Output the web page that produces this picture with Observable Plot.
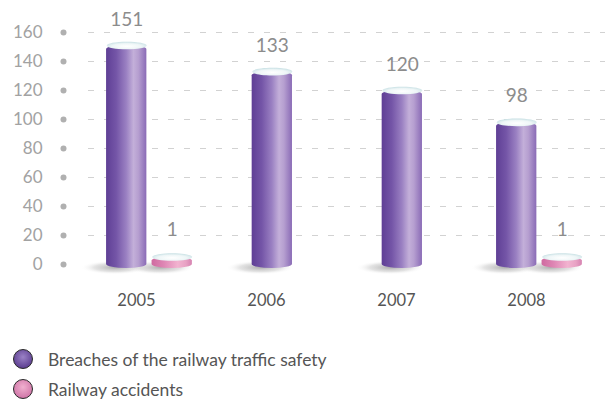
<!DOCTYPE html>
<html><head><meta charset="utf-8">
<script src="https://cdn.jsdelivr.net/npm/d3@7"></script>
<script src="https://cdn.jsdelivr.net/npm/@observablehq/plot@0.6"></script>
<style>
html,body{margin:0;padding:0;background:#fff;}
body{font-family:"Lato","Open Sans",sans-serif;width:610px;height:401px;position:relative;overflow:hidden;}
#legend{position:absolute;left:12px;top:344px;}
.lg{display:flex;align-items:center;height:30px;font-size:17.5px;color:#555;}
.lg svg{margin-right:14px;}
</style></head><body><div id="chart"></div><div id="legend"></div>
<script>
const years = ["2005","2006","2007","2008"];
const breaches = [151,133,120,98];
const accidents = [1,null,null,1];
const yTicks = [0,20,40,60,80,100,120,140,160];
const seriesNames = ["Breaches of the railway traffic safety","Railway accidents"];

const barHalf = 0.155;
const rows = [];
years.forEach((yr,i)=>{
  const both = accidents[i]!=null;
  rows.push({series:0, i, year:yr, value:breaches[i], pos: i + (both ? -0.075 : 0.045)});
  if (both) rows.push({series:1, i, year:yr, value:accidents[i], pos: i + 0.275});
});
const purple = rows.filter(d=>d.series===0);
const pink = rows.filter(d=>d.series===1);

function ellipseSymbol(rx, ry){
  return {draw(ctx){
    const k=0.5523;
    ctx.moveTo(rx,0);
    ctx.bezierCurveTo(rx,k*ry,k*rx,ry,0,ry);
    ctx.bezierCurveTo(-k*rx,ry,-rx,k*ry,-rx,0);
    ctx.bezierCurveTo(-rx,-k*ry,-k*rx,-ry,0,-ry);
    ctx.bezierCurveTo(k*rx,-ry,rx,-k*ry,rx,0);
    ctx.closePath();
  }};
}

const chart = Plot.plot({
  width:610, height:322, marginLeft:88, marginRight:5, marginTop:32, marginBottom:58,
  x:{domain:[-0.369,3.608]},
  y:{domain:[0,160]},
  style:{fontFamily:"Lato, 'Open Sans', sans-serif", background:"transparent", overflow:"visible"},
  marks:[
    Plot.ruleY(yTicks.filter(t=>t>0), {stroke:"#d2d2d2", strokeDasharray:"6,10", strokeWidth:1}),
    Plot.axisY({ticks:yTicks, tickSize:0, tickPadding:46, fontSize:17, fill:"#a2a2a2", label:null}),
    Plot.dot(yTicks, {y:d=>d, frameAnchor:"left", dx:-25, r:3, fill:"#b0b0b0"}),
    Plot.axisX({ticks:[0,1,2,3], tickFormat:i=>years[i], tickSize:0, tickPadding:30, fontSize:16.5, fill:"#555", label:null}),
    Plot.dot(rows, {x:"pos", y:0, symbol:ellipseSymbol(34,7), fill:"url(#gShadow)", dx:-12, dy:3}),
    Plot.rect(purple, {x1:d=>d.pos-barHalf, x2:d=>d.pos+barHalf, y1:0, y2:"value", fill:"url(#gPurple)", rx:20, ry:4, insetBottom:-4}),
    Plot.rect(pink, {x1:d=>d.pos-barHalf, x2:d=>d.pos+barHalf, y1:0, y2:"value", fill:"url(#gPink)", rx:20, ry:4, insetBottom:-4, insetTop:-6}),
    Plot.dot(purple, {x:"pos", y:"value", symbol:ellipseSymbol(20,3.8), fill:"url(#gCap)"}),
    Plot.dot(pink, {x:"pos", y:"value", symbol:ellipseSymbol(20,3.8), fill:"url(#gCap)", dy:-6}),
    Plot.text(purple, {x:"pos", y:"value", text:d=>String(d.value), dy:-26, fontSize:19, fill:"#8c8c8c"}),
    Plot.text(pink, {x:"pos", y:"value", text:d=>String(d.value), dy:-33, fontSize:19, fill:"#8c8c8c"})
  ]
});

const svg = d3.select(chart);
const defs = svg.insert("defs", ":first-child");
function lin(id, stops){
  const g = defs.append("linearGradient").attr("id", id).attr("x1","0").attr("x2","1").attr("y1","0").attr("y2","0");
  stops.forEach(([o,c])=>g.append("stop").attr("offset",o).attr("stop-color",c));
}
lin("gPurple", [[0,"#5f3f95"],[0.25,"#7455a7"],[0.5,"#9a80c2"],[0.68,"#c3afd9"],[0.8,"#b69fd0"],[1,"#8a6bb6"]]);
lin("gPink", [[0,"#cf6aa0"],[0.3,"#de86b4"],[0.65,"#f2b3d0"],[0.85,"#e8a2c4"],[1,"#d683b1"]]);
const cap = defs.append("radialGradient").attr("id","gCap").attr("cx","0.5").attr("cy","0.6").attr("r","0.6");
cap.append("stop").attr("offset",0).attr("stop-color","#ffffff");
cap.append("stop").attr("offset",0.6).attr("stop-color","#eef6f7");
cap.append("stop").attr("offset",1).attr("stop-color","#c6dfe3");
const sh = defs.append("radialGradient").attr("id","gShadow").attr("cx","0.5").attr("cy","0.5").attr("r","0.5");
sh.append("stop").attr("offset",0).attr("stop-color","#9a9a9a").attr("stop-opacity",0.8);
sh.append("stop").attr("offset",0.6).attr("stop-color","#c8c8c8").attr("stop-opacity",0.5);
sh.append("stop").attr("offset",1).attr("stop-color","#ffffff").attr("stop-opacity",0);

document.getElementById("chart").appendChild(chart);

const legendColors = [["#5a3c8f","#9b82c6"],["#cf73a6","#f0b0cf"]];
const legend = d3.select("#legend");
seriesNames.forEach((name,k)=>{
  const row = legend.append("div").attr("class","lg");
  const s = row.append("svg").attr("width",22).attr("height",22);
  const gid = "lg"+k;
  const rg = s.append("defs").append("radialGradient").attr("id",gid).attr("cx","0.5").attr("cy","0.4").attr("r","0.6");
  rg.append("stop").attr("offset",0).attr("stop-color",legendColors[k][1]);
  rg.append("stop").attr("offset",1).attr("stop-color",legendColors[k][0]);
  s.append("circle").attr("cx",11).attr("cy",11).attr("r",9.5).attr("fill",`url(#${gid})`).attr("stroke","#2a2a2a").attr("stroke-width",1);
  row.append("span").text(name);
});
</script></body></html>
